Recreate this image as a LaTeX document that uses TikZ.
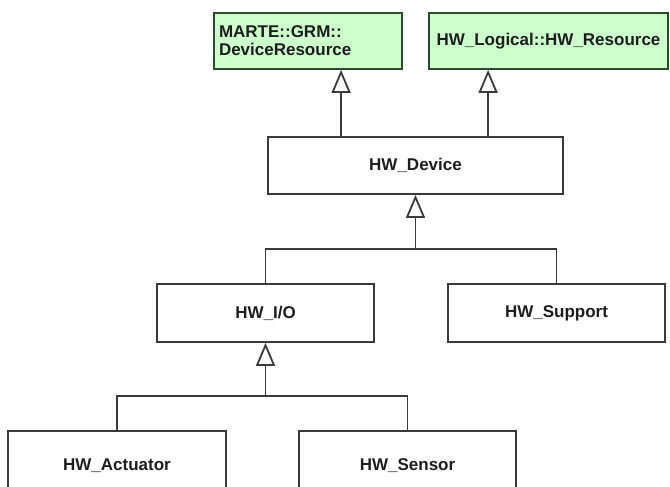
\documentclass[tikz,border=0pt]{standalone}
\usepackage{fontspec}
\setsansfont{Liberation Sans}
\usepackage{xcolor}
\usetikzlibrary{arrows.meta,calc}

\definecolor{pkgfill}{HTML}{CCFFCC}
\definecolor{pkgdraw}{HTML}{2E4A2E}
\definecolor{umlline}{HTML}{3A3A3A}
\definecolor{umltext}{HTML}{1E1E1E}

\begin{document}
\begin{tikzpicture}[x=1pt, y=-1pt, line width=1.8pt,
    font=\sffamily\bfseries\fontsize{17}{18}\selectfont,
    cls/.style={draw=umlline, fill=white, text=umltext, inner sep=3pt,
      minimum height=57pt},
    extcls/.style={cls, draw=pkgdraw, fill=pkgfill, minimum height=56pt},
    gen/.style={-{Triangle[open, length=23pt, width=19pt, fill=white]},
      draw=umlline}]
    % ── Cadre ───────────────────────────────────────────────────────────────
    \useasboundingbox (0,0) rectangle (670,487);
    \clip (0,0) rectangle (670,487);
    % ── Classes importées (vert) ────────────────────────────────────────────
    \node[extcls, text width=178pt, inner xsep=5pt, align=left] (grmres)
      at (308,41) {MARTE::GRM::\\DeviceResource};
    \node[extcls, minimum width=239pt] (logres) at (548.5,41)
      {HW\_Logical::HW\_Resource};
    % ── Hiérarchie HW ───────────────────────────────────────────────────────
    \node[cls, minimum width=295pt] (hwdev) at (415.5,165.5) {HW\_Device};
    \node[cls, minimum width=217pt, minimum height=58pt] (hwio)
      at (265.5,313) {HW\_I/O};
    \node[cls, minimum width=217pt, minimum height=58pt] (hwsup)
      at (556.5,313) {HW\_Support};
    \node[cls, minimum width=218pt, minimum height=70pt] (hwact)
      at (117,466) {HW\_Actuator};
    \node[cls, minimum width=217pt, minimum height=70pt] (hwsen)
      at (407.5,466) {HW\_Sensor};
    % ── Généralisations vers les classes vertes ─────────────────────────────
    \coordinate (up1) at ($(hwdev.north west)+(74,0)$);
    \coordinate (up2) at ($(hwdev.north west)+(221,0)$);
    \draw[gen] (up1) -- (up1 |- grmres.south);
    \draw[gen] (up2) -- (up2 |- logres.south);
    % ── HW_I/O et HW_Support héritent de HW_Device ──────────────────────────
    \coordinate (bus1) at (hwdev.south |- 0,249);
    \draw[umlline] (hwio.north) |- (bus1) -| (hwsup.north);
    \draw[gen] (bus1) -- (hwdev.south);
    % ── HW_Actuator et HW_Sensor héritent de HW_I/O ─────────────────────────
    \coordinate (bus2) at (hwio.south |- 0,396);
    \draw[umlline] (hwact.north) |- (bus2) -| (hwsen.north);
    \draw[gen] (bus2) -- (hwio.south);
  \end{tikzpicture}
\end{document}
